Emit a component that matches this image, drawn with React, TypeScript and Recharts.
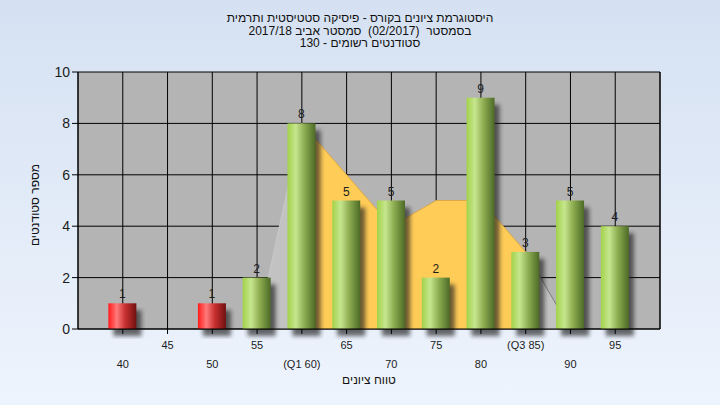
import React from "react";
import { ComposedChart, Bar, Area, XAxis, YAxis, CartesianGrid, LabelList } from "recharts";

const grades   = [40, 45, 50, 55, 60, 65, 70, 75, 80, 85, 90, 95];
const counts   = [1, 0, 1, 2, 8, 5, 5, 2, 9, 3, 5, 4];
// box between Q1 and Q3 (yellow) and the two tails (gray)
const midBand  = [null, null, null, null, 8, 6, 4, 5, 5, 3, null, null];
const lowTail  = [null, null, null, 0, 8, null, null, null, null, null, null, null];
const highTail = [null, null, null, null, null, null, null, null, null, 3, 0, null];
const tickText: Record<number, string> = { 60: "(Q1 60)", 85: "(Q3 85)" };
const yTicks   = [0, 2, 4, 6, 8, 10];

const titleLines = [
  "היסטוגרמת ציונים בקורס - פיסיקה סטטיסטית ותרמית",
  "בסמסטר  (02/2017)  סמסטר אביב 2017/18",
  "סטודנטים רשומים - 130",
];

const data = grades.map((g, i) => ({
  x: g, count: counts[i], mid: midBand[i], low: lowTail[i], high: highTail[i],
}));

const font = "'Liberation Sans', Arial, sans-serif";

function BarShape(props: any) {
  const { x, y, width, height, payload } = props;
  if (!height || height <= 0) return null;
  const red = payload.x < 55;
  return (
    <g>
      <rect x={x + 5} y={y + 7} width={width} height={height} fill="#1e1e1e" opacity={0.65} filter="url(#barShadow)" />
      <rect x={x} y={y} width={width} height={height} fill={red ? "url(#gRed)" : "url(#gGreen)"} />
    </g>
  );
}

function XTick({ x, payload }: any) {
  const v = payload.value;
  const upper = v % 10 === 5;
  return (
    <text x={x} y={upper ? 349 : 368} textAnchor="middle" fontSize={11} fill="#1c1c1c" fontFamily={font}>
      {tickText[v] ?? String(v)}
    </text>
  );
}

export default function App() {
  return (
    <div style={{ position: "absolute", left: 0, top: 0, width: 720, height: 405,
      background: "linear-gradient(#d5e1f2, #eef4fd)", fontFamily: font }}>
      <svg width={0} height={0} style={{ position: "absolute" }}>
        <defs>
          <linearGradient id="gGreen" x1="0" y1="0" x2="1" y2="0">
            <stop offset="0" stopColor="#a2d24a" />
            <stop offset="0.3" stopColor="#c6e68e" />
            <stop offset="0.6" stopColor="#8fae52" />
            <stop offset="1" stopColor="#4c6a26" />
          </linearGradient>
          <linearGradient id="gRed" x1="0" y1="0" x2="1" y2="0">
            <stop offset="0" stopColor="#ff1a1a" />
            <stop offset="0.3" stopColor="#ff7a7a" />
            <stop offset="0.6" stopColor="#c83030" />
            <stop offset="1" stopColor="#701010" />
          </linearGradient>
          <filter id="barShadow" x="-50%" y="-10%" width="200%" height="120%">
            <feGaussianBlur stdDeviation="2" />
          </filter>
        </defs>
      </svg>

      {titleLines.map((t, i) => (
        <div key={i} dir="rtl" style={{ position: "absolute", left: 0, width: 720, top: 11 + i * 12.5,
          textAlign: "center", fontSize: 12, lineHeight: "14px", color: "#111", whiteSpace: "pre" }}>{t}</div>
      ))}

      <div style={{ position: "absolute", left: 78, width: 582, top: 78, textAlign: "center",
        fontSize: 12, lineHeight: "14px", color: "#222" }}>במשימה : Final_B</div>

      <div dir="rtl" style={{ position: "absolute", left: 78, width: 582, top: 373, textAlign: "center",
        fontSize: 12, lineHeight: "14px", color: "#111" }}>טווח ציונים</div>

      <div dir="rtl" style={{ position: "absolute", left: -20, top: 198, width: 110, textAlign: "center",
        fontSize: 12, lineHeight: "14px", color: "#111", transform: "rotate(-90deg)" }}>מספר סטודנטים</div>

      <ComposedChart width={720} height={405} data={data}
        margin={{ top: 72, right: 0, left: 0, bottom: 0 }} style={{ position: "absolute", left: 0, top: 0 }}>
        <CartesianGrid yAxisId="left" stroke="#000" fill="#b4b4b4" fillOpacity={1} />
        <XAxis dataKey="x" type="number" domain={[35, 100]} ticks={grades} height={76}
          axisLine={{ stroke: "#000" }} tickLine={{ stroke: "#000" }} tickSize={5} tick={<XTick />} />
        <YAxis yAxisId="left" domain={[0, 10]} ticks={yTicks} width={78}
          axisLine={{ stroke: "#000" }} tickLine={{ stroke: "#000" }} tickSize={6}
          tick={{ fontSize: 14, fill: "#1c1c1c", fontFamily: font }} />
        <YAxis yAxisId="right" orientation="right" domain={[0, 10]} ticks={yTicks} width={60}
          axisLine={{ stroke: "#000" }} tickLine={{ stroke: "#000" }} tickSize={6}
          tick={{ fontSize: 14, fill: "#1c1c1c", fontFamily: font }} />
        <Area yAxisId="left" dataKey="low" type="linear" fill="#c2c2c2" fillOpacity={1} stroke="#c8c8c8"
          isAnimationActive={false} connectNulls={false} dot={false} activeDot={false} />
        <Area yAxisId="left" dataKey="high" type="linear" fill="#c2c2c2" fillOpacity={1} stroke="#7a7a7a"
          isAnimationActive={false} connectNulls={false} dot={false} activeDot={false} />
        <Area yAxisId="left" dataKey="mid" type="linear" fill="#ffcc58" fillOpacity={1} stroke="#dca848"
          isAnimationActive={false} connectNulls={false} dot={false} activeDot={false} />
        <Bar yAxisId="left" dataKey="count" barSize={28} shape={<BarShape />} isAnimationActive={false}>
          <LabelList dataKey="count" position="top" offset={5} fontSize={12} fill="#1c1c1c" fontFamily={font}
            formatter={(v: any) => (v ? v : "")} />
        </Bar>
      </ComposedChart>
    </div>
  );
}
